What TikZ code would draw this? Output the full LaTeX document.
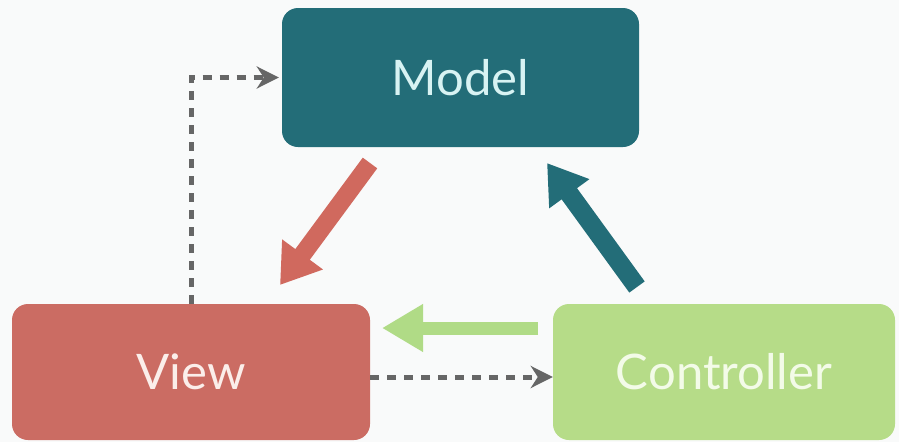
\documentclass[tikz,border=0pt]{standalone}
\usepackage{fontspec}
\setmainfont{Lato}
\usetikzlibrary{arrows.meta}
\definecolor{modelfill}{HTML}{236D78}
\definecolor{modeltext}{HTML}{D8F3F3}
\definecolor{viewfill}{HTML}{CB6C63}
\definecolor{viewtext}{HTML}{FBEEEA}
\definecolor{ctrlfill}{HTML}{B6DC88}
\definecolor{ctrltext}{HTML}{F3FBE8}
\definecolor{redarrow}{HTML}{D0695E}
\definecolor{greenarrow}{HTML}{B0DB86}
\definecolor{dashgray}{HTML}{666666}
\definecolor{bg}{HTML}{F9FAFA}
\begin{document}
\begin{tikzpicture}[x=1pt,y=-1pt,
  box/.style={rounded corners=16pt, inner sep=0pt, font=\fontsize{49}{58}\selectfont},
  fat/.style={line width=#1, line cap=butt},
  dashlink/.style={dashgray, line width=5pt, dash pattern=on 9pt off 8pt,
    -{Stealth[length=22pt,width=22pt,inset=7pt]}}
]
\fill[bg] (0,0) rectangle (899,442);
\useasboundingbox (0,0) rectangle (899,442);

\node[box, fill=modelfill, text=modeltext, minimum width=357pt, minimum height=139pt] (model) at (460.5,77.5) {Model};
\node[box, fill=viewfill, text=viewtext, minimum width=358pt, minimum height=136pt] (view) at (191,372) {View};
\node[box, fill=ctrlfill, text=ctrltext, minimum width=342pt, minimum height=136pt] (ctrl) at (724,372) {Controller};

% end points of the thick arrows
\coordinate (mvs) at (370,163);
\coordinate (mve) at (280,285);
\coordinate (cms) at (637,287);
\coordinate (cme) at (547,163);
\coordinate (cvs) at (538,328);
\coordinate (cve) at (382,328);

% thick arrows
\draw[fat=18pt, redarrow, -{Triangle[length=38pt,width=48pt]}] (mvs) -- (mve);
\draw[fat=19pt, modelfill, -{Triangle[length=38pt,width=47pt]}] (cms) -- (cme);
\draw[fat=13pt, greenarrow, -{Triangle[length=41pt,width=45pt]}] (cvs) -- (cve);

% dashed links
\draw[dashlink, shorten >=3pt] (view.north) |- (model.west);
\draw[dashlink] ([yshift=-5pt]view.east) -- ([yshift=-5pt]ctrl.west);
\end{tikzpicture}
\end{document}
